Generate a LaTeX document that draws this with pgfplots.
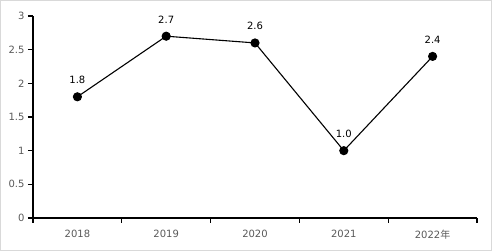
\documentclass[border=0pt]{standalone}
\usepackage{pgfplots}
\pgfplotsset{compat=1.18}
\usepackage{fontspec}
\setmainfont{DejaVu Sans}
\newfontfamily\cjk{Noto Sans CJK SC}
\definecolor{ticklab}{HTML}{595959}
\begin{document}
\begin{tikzpicture}[x=1pt,y=1pt]
\useasboundingbox (0,0) rectangle (492,251);
\draw[color=black!15, line width=1pt] (0.5,0.5) rectangle (491.5,250.5);
\begin{axis}[
  at={(33pt,33pt)}, anchor=south west,
  scale only axis, width=444pt, height=202pt,
  xmin=-0.5, xmax=4.5, ymin=0, ymax=3,
  axis x line=bottom, axis y line=left,
  axis line style={-, black, line width=1.1pt},
  xtick={0,1,2,3,4},
  xticklabels={2018,2019,2020,2021,{2022{\cjk 年}}},
  major x tick style={draw=none},
  minor xtick={-0.5,0.5,1.5,2.5,3.5,4.5},
  minor x tick style={black, line width=1.1pt},
  minor tick length=5pt,
  ytick={0,0.5,1,1.5,2,2.5,3},
  y tick style={black, line width=1.1pt},
  major tick length=5pt,
  tick align=outside,
  /pgf/number format/assume math mode=true,
  ticklabel style={font=\fontsize{10}{12}\selectfont, text=ticklab},
  xticklabel style={yshift=-4pt},
  yticklabel style={xshift=0pt},
  clip=false,
  nodes near coords,
  every node near coord/.append style={font=\fontsize{10}{12}\selectfont, text=black, yshift=9pt},
  nodes near coords style={/pgf/number format/.cd, fixed, fixed zerofill, precision=1, assume math mode=true},
]
\addplot[black, line width=1.1pt, mark=*, mark size=4pt, mark options={fill=black}]
  coordinates {(0,1.8) (1,2.7) (2,2.6) (3,1.0) (4,2.4)};
\end{axis}
\end{tikzpicture}
\end{document}
